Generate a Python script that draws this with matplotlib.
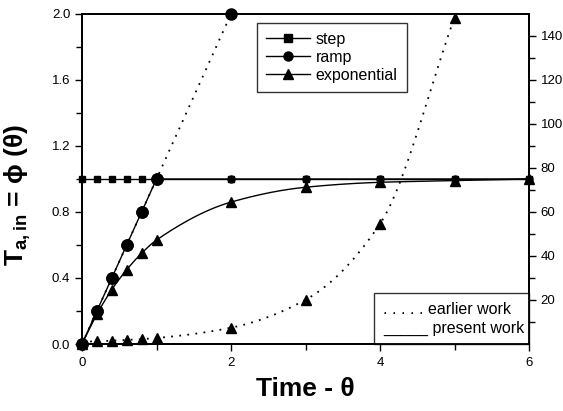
import numpy as np
import matplotlib
matplotlib.use("Agg")
import matplotlib.pyplot as plt
from matplotlib.patches import Rectangle

plt.rcParams['font.family'] = ['Liberation Sans', 'DejaVu Sans']
plt.rcParams['mathtext.fontset'] = 'custom'
plt.rcParams['mathtext.rm'] = 'Liberation Sans'
plt.rcParams['mathtext.bf'] = 'Liberation Sans:bold'

# time points
theta_full = [0, 0.2, 0.4, 0.6, 0.8, 1.0, 2, 3, 4, 5, 6]

# present work (left axis)
step_vals = [1, 1, 1, 1, 1, 1, 1, 1, 1, 1, 1]
ramp_x = [0, 0.2, 0.4, 0.6, 0.8, 1.0, 2, 3, 4, 5, 6]
ramp_vals = [0, 0.2, 0.4, 0.6, 0.8, 1.0, 1, 1, 1, 1, 1]
expo_vals = [0, 0.18, 0.33, 0.45, 0.55, 0.63, 0.86, 0.95, 0.98, 0.99, 1.0]

# earlier work
ramp_early_x = [0, 0.2, 0.4, 0.6, 0.8, 1.0, 2]
ramp_early_vals = [0, 0.2, 0.4, 0.6, 0.8, 1.0, 2.0]
expo_early_x = [0, 0.2, 0.4, 0.6, 0.8, 1.0, 2, 3, 4, 5]
expo_early_vals = [1.0, 1.2, 1.5, 1.8, 2.2, 2.7, 7.4, 20.1, 54.6, 148.4]  # right axis


def smooth(x, y, n=400):
    """Monotone cubic Hermite curve through the given points."""
    x = np.asarray(x, float)
    y = np.asarray(y, float)
    h = np.diff(x)
    d = np.diff(y) / h
    m = np.zeros_like(y)
    for k in range(1, len(x) - 1):
        if d[k - 1] * d[k] > 0:
            w1 = 2 * h[k] + h[k - 1]
            w2 = h[k] + 2 * h[k - 1]
            m[k] = (w1 + w2) / (w1 / d[k - 1] + w2 / d[k])
    m[0] = d[0]
    m[-1] = d[-1]
    xs = np.linspace(x[0], x[-1], n)
    idx = np.clip(np.searchsorted(x, xs) - 1, 0, len(x) - 2)
    t = (xs - x[idx]) / h[idx]
    h00 = 2 * t**3 - 3 * t**2 + 1
    h10 = t**3 - 2 * t**2 + t
    h01 = -2 * t**3 + 3 * t**2
    h11 = t**3 - t**2
    ys = (h00 * y[idx] + h10 * h[idx] * m[idx]
          + h01 * y[idx + 1] + h11 * h[idx] * m[idx + 1])
    return xs, ys


fig = plt.figure(figsize=(5.63, 4.11), dpi=100)
ax = fig.add_axes([82 / 563, 1 - 344 / 411, 447 / 563, 330 / 411])
ax2 = ax.twinx()

dotted = (0, (1.0, 3.5))
lw = 1.0

# earlier work curves
ax.plot(ramp_early_x, ramp_early_vals, color='black', lw=1.3, ls=dotted,
        marker='o', ms=8, clip_on=False, zorder=3)
ex, ey = smooth(expo_early_x, expo_early_vals)
ax2.plot(ex, ey, color='black', lw=1.3, ls=dotted, zorder=3)
ax2.plot(expo_early_x, expo_early_vals, ls='none', color='black',
         marker='^', ms=6.5, clip_on=False, zorder=4)

# present work curves
ax.plot(theta_full, step_vals, color='black', lw=lw, marker='s', ms=5,
        clip_on=False, zorder=4)
ax.plot(ramp_x, ramp_vals, color='black', lw=lw, zorder=4)
ax.plot(ramp_x[:6], ramp_vals[:6], ls='none', color='black', marker='o',
        ms=8, clip_on=False, zorder=5)
ax.plot(ramp_x[6:], ramp_vals[6:], ls='none', color='black', marker='o',
        ms=5, clip_on=False, zorder=5)
px, py = smooth(theta_full, expo_vals)
ax.plot(px, py, color='black', lw=lw, zorder=4)
ax.plot(theta_full, expo_vals, ls='none', color='black', marker='^', ms=6.5,
        clip_on=False, zorder=5)

# legend for the input types
h_step, = ax.plot([], [], color='black', lw=lw, marker='s', ms=5.5)
h_ramp, = ax.plot([], [], color='black', lw=lw, marker='o', ms=6.5)
h_expo, = ax.plot([], [], color='black', lw=lw, marker='^', ms=7)
leg = ax.legend([h_step, h_ramp, h_expo], ['step', 'ramp', 'exponential'],
                loc='upper left', bbox_to_anchor=(0.391, 0.973),
                fancybox=False, edgecolor='#333333', framealpha=1,
                fontsize=11.5, handlelength=2.8, labelspacing=0.2,
                borderpad=0.55, handletextpad=0.35, borderaxespad=0)
leg.get_frame().set_linewidth(1.0)
leg.set_zorder(10)

# box describing line styles
bx0 = (374 - 82) / 447
by1 = (344 - 293) / 330
ax.add_patch(Rectangle((bx0, 0), 1 - bx0, by1, transform=ax.transAxes,
                       facecolor='white', edgecolor='#333333', lw=1.0,
                       zorder=11, clip_on=False))
ax.text(bx0 + 0.02, 0.105, '. . . . . earlier work', transform=ax.transAxes,
        fontsize=11.5, va='center', ha='left', zorder=12)
ax.text(bx0 + 0.02, 0.047, '_____ present work', transform=ax.transAxes,
        fontsize=11.5, va='center', ha='left', zorder=12)

# axes
ax.set_xlim(0, 6)
ax.set_ylim(0, 2.0)
ax2.set_ylim(0, 150)
ax.set_xticks([0, 2, 4, 6])
ax.set_xticks([1, 3, 5], minor=True)
ax.set_yticks([0, 0.4, 0.8, 1.2, 1.6, 2.0])
ax.set_yticklabels(['0.0', '0.4', '0.8', '1.2', '1.6', '2.0'])
ax.set_yticks([0.2, 0.6, 1.0, 1.4, 1.8], minor=True)
ax2.set_yticks([20, 40, 60, 80, 100, 120, 140])
ax2.set_yticks([10, 30, 50, 70, 90, 110, 130], minor=True)

for a in (ax, ax2):
    a.tick_params(which='both', direction='out', labelsize=9.5, width=1.0,
                  color='black')
    a.tick_params(which='major', length=5)
    a.tick_params(which='minor', length=4)
    for s in a.spines.values():
        s.set_linewidth(1.3)
ax.tick_params(axis='x', pad=4)

ax.set_xlabel('Time - θ', fontsize=19, fontweight='bold', labelpad=6)
ax.set_ylabel(r'T$_{\mathbf{a,in}}$ = ϕ (θ)', fontsize=19, fontweight='bold')
ax.yaxis.set_label_coords(-0.11, 0.453)

fig.savefig('out.png', dpi=100)
